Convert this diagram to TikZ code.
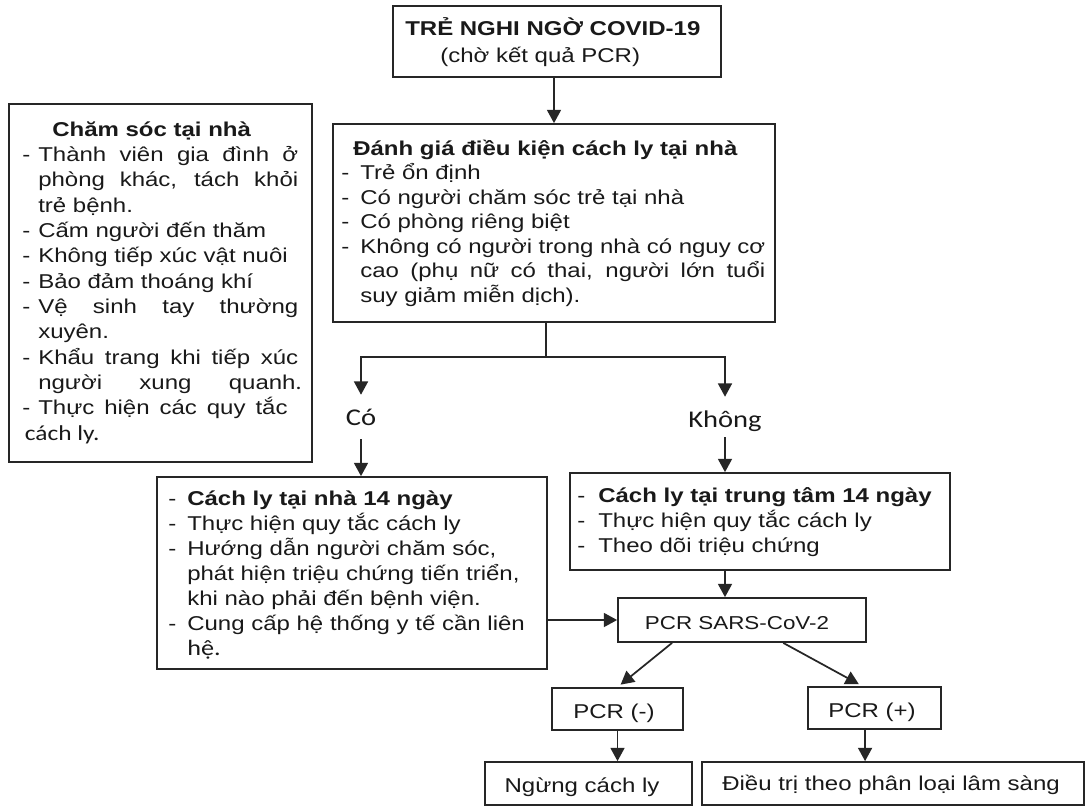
\documentclass[tikz,border=0pt]{standalone}
\usepackage{fontspec}
\setmainfont{Liberation Sans}[FakeStretch=1.2]
\newfontfamily\cbfont{Carlito}[FakeStretch=1.19]
\usetikzlibrary{arrows.meta,fit,calc}

% a line stretched to a given width, and a dash followed by a fixed indent
\newcommand\jl[2]{\makebox[#1][s]{#2}}
\newcommand\dashto[1]{\makebox[#1][l]{-}}

\begin{document}
\begin{tikzpicture}[x=0.75pt,y=-0.75pt,
  box/.style={draw=black!85,line width=1.3pt,fill=white,inner sep=0pt},
  txt/.style={inner sep=0pt,text=black!90},
  lnk/.style={draw=black!85,line width=1.3pt},
  arr/.style={lnk,-{Triangle[width=10.5pt,length=10pt]}},
  yn/.style={inner sep=0pt,text=black!90,font=\cbfont\fontsize{18pt}{20pt}\selectfont,
    text height=13.5pt,text depth=3.5pt},
  font=\fontsize{15pt}{18.5pt}\selectfont]
\fill[white] (0,0) rectangle (1091,807);
\useasboundingbox (0,0) rectangle (1091,807);

% boxes
\node[box,fit={(393,6)(721,77)}] (suspect) {};
\node[box,fit={(333,124)(775,322)}] (assess) {};
\node[box,fit={(9,104)(312,462)}] (care) {};
\node[box,fit={(157,477)(547,669)}] (home) {};
\node[box,fit={(570,473)(950,570)}] (centre) {};
\node[box,fit={(618,598)(866,642)}] (pcr) {};
\node[box,fit={(552,688)(683,730)}] (neg) {};
\node[box,fit={(808,687)(941,729)}] (pos) {};
\node[box,fit={(485,762)(692,805)}] (stop) {};
\node[box,fit={(702,762)(1084,805)}] (treat) {};

% texts
\node[txt,anchor=base west] (suspectT) at (405,35) {\parbox[t]{300pt}{\fontsize{15pt}{20.25pt}\selectfont
\textbf{TRẺ NGHI NGỜ COVID-19}\\
\hspace*{26.25pt}(chờ kết quả PCR)}};

\node[txt,anchor=base west] (assessT) at (341,155) {\parbox[t]{330pt}{\fontsize{15pt}{18.4pt}\selectfont
\hspace*{9pt}\textbf{Đánh giá điều kiện cách ly tại nhà}\\
\dashto{14.25pt}Trẻ ổn định\\
\dashto{14.25pt}Có người chăm sóc trẻ tại nhà\\
\dashto{14.25pt}Có phòng riêng biệt\\
\dashto{14.25pt}\jl{303.75pt}{Không có người trong nhà có nguy cơ}\\
\hspace*{14.25pt}\jl{303.75pt}{cao (phụ nữ có thai, người lớn tuổi}\\
\hspace*{14.25pt}suy giảm miễn dịch).}};

\node[txt,anchor=base west] (careT) at (22,136) {\parbox[t]{215pt}{\fontsize{15pt}{19pt}\selectfont
\hspace*{22.5pt}\textbf{Chăm sóc tại nhà}\\
\dashto{12pt}\jl{195pt}{Thành viên gia đình ở}\\
\hspace*{12pt}\jl{195pt}{phòng khác, tách khỏi}\\
\hspace*{12pt}trẻ bệnh.\\
\dashto{12pt}Cấm người đến thăm\\
\dashto{12pt}Không tiếp xúc vật nuôi\\
\dashto{12pt}Bảo đảm thoáng khí\\
\dashto{12pt}\jl{195pt}{Vệ sinh tay thường}\\
\hspace*{12pt}xuyên.\\
\dashto{12pt}\jl{195pt}{Khẩu trang khi tiếp xúc}\\
\hspace*{12pt}\jl{193pt}{người xung quanh}{\cbfont.}\\
\dashto{12pt}\jl{187pt}{Thực hiện các quy tắc}\\
\hspace*{2pt}{\cbfont\fontsize{16pt}{19pt}\selectfont cách ly.}}};

\node[txt,anchor=base west] (homeT) at (168,505) {\parbox[t]{300pt}{\fontsize{15pt}{18.75pt}\selectfont
\dashto{14.25pt}\textbf{Cách ly tại nhà 14 ngày}\\
\dashto{14.25pt}Thực hiện quy tắc cách ly\\
\dashto{14.25pt}Hướng dẫn người chăm sóc,\\
\hspace*{14.25pt}phát hiện triệu chứng tiến triển,\\
\hspace*{14.25pt}khi nào phải đến bệnh viện.\\
\dashto{14.25pt}Cung cấp hệ thống y tế cần liên\\
\hspace*{14.25pt}{\cbfont\fontsize{16.5pt}{19pt}\selectfont hệ.}}};

\node[txt,anchor=base west] (centreT) at (577,502) {\parbox[t]{290pt}{\fontsize{15pt}{19pt}\selectfont
\dashto{15.75pt}\textbf{Cách ly tại trung tâm 14 ngày}\\
\dashto{15.75pt}Thực hiện quy tắc cách ly\\
\dashto{15.75pt}Theo dõi triệu chứng}};

\node[txt,anchor=base,font=\fontsize{14pt}{16pt}\selectfont] (pcrT) at (737,629) {PCR SARS-CoV-2};
\node[txt,anchor=base] (negT) at (614,718) {PCR (-)};
\node[txt,anchor=base] (posT) at (872,717) {PCR (+)};
\node[txt,anchor=base] (stopT) at (582,792) {Ngừng cách ly};
\node[txt,anchor=base west] (treatT) at (722,790) {Điều trị theo phân loại lâm sàng};

\node[yn,anchor=base] (yes) at (361,425) {Có};
\node[yn,anchor=base] (no) at (725,427) {Không};

% connectors
\draw[arr] (assess.north |- suspect.south) -- (assess.north);
\coordinate (fork) at (546,357);
\draw[lnk] (assess.south -| fork) -- (fork);
\draw[arr,shorten >=9pt] (fork) -| (yes.north);
\draw[arr,shorten >=9pt] (fork) -| (no.north);
\draw[arr,shorten <=7pt] (yes.south) -- (yes.south |- home.north);
\draw[arr,shorten <=4pt] (no.south) -- (no.south |- centre.north);
\draw[arr] (no.south |- centre.south) -- (no.south |- pcr.north);
\draw[arr] (home.east |- pcr.west) -- (pcr.west);
\draw[arr,shorten >=3pt] ($(pcr.south west)!0.22!(pcr.south east)$) -- (neg.north);
\draw[arr,shorten >=3pt] ($(pcr.south west)!0.665!(pcr.south east)$) -- ($(pos.north west)!0.41!(pos.north east)$);
\draw[arr] (neg.south) -- (neg.south |- stop.north);
\draw[arr] ($(pos.south west)!0.43!(pos.south east)$) coordinate (pd) -- (pd |- treat.north);
\end{tikzpicture}
\end{document}
